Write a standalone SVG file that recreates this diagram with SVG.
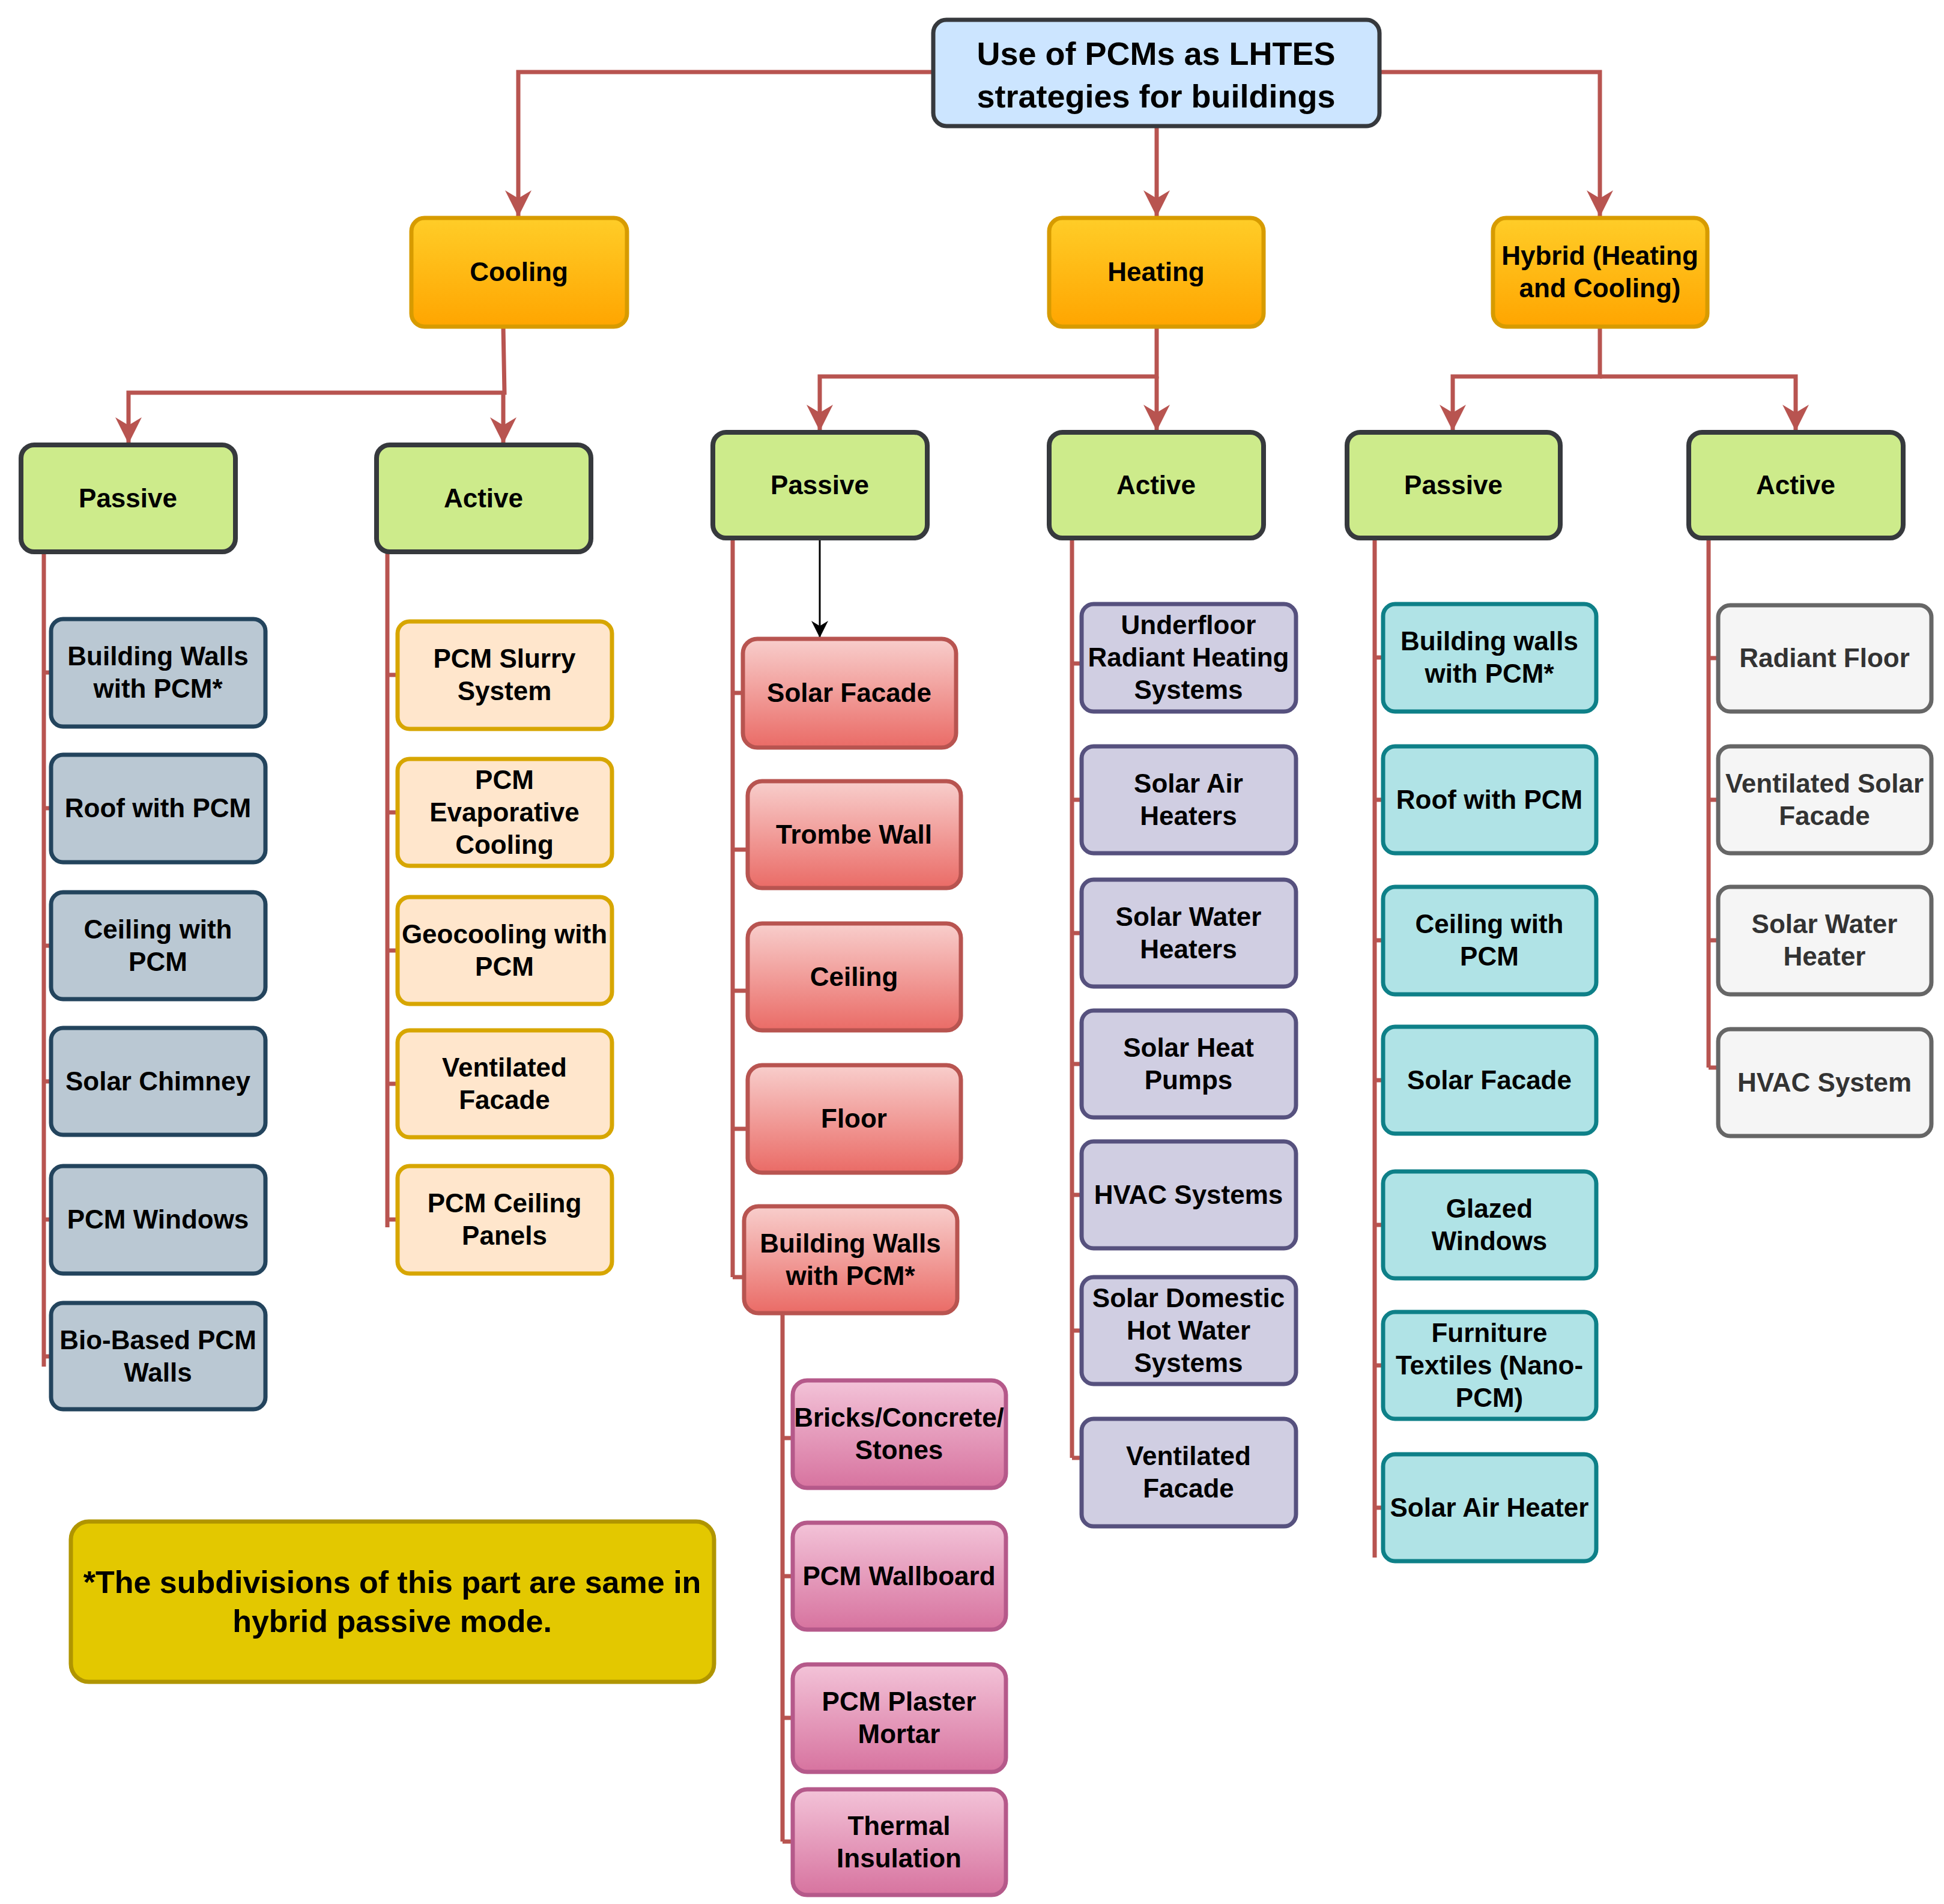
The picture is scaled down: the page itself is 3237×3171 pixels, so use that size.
<svg xmlns="http://www.w3.org/2000/svg" width="3237" height="3171" viewBox="0 0 3237 3171">
<defs>
<style>
text{font-family:"Liberation Sans",Arial,sans-serif;font-weight:bold;font-size:44px;fill:#000;text-anchor:middle}
.t{font-size:54px}
.c{fill:none;stroke:#b85450;stroke-width:7}
.k{fill:none;stroke:#000;stroke-width:3}
.title{fill:#cce5ff;stroke:#36393d;stroke-width:7}
.l2{fill:url(#og);stroke:#d79b00;stroke-width:7}
.l3{fill:#cdeb8b;stroke:#36393d;stroke-width:8}
.cp{fill:#bac8d3;stroke:#23445d;stroke-width:7}
.ca{fill:#ffe6cc;stroke:#d7a600;stroke-width:7}
.hp{fill:url(#rg);stroke:#b85450;stroke-width:7}
.hw{fill:url(#pg);stroke:#b5598a;stroke-width:7}
.ha{fill:#d0cee2;stroke:#56517e;stroke-width:7}
.yp{fill:#b0e3e6;stroke:#0e8088;stroke-width:7}
.ya{fill:#f5f5f5;stroke:#666;stroke-width:7}
.note{fill:#e3c800;stroke:#b09500;stroke-width:7}
</style>
<linearGradient id="og" x1="0" y1="0" x2="0" y2="1"><stop offset="0" stop-color="#ffcd28"/><stop offset="1" stop-color="#ffa500"/></linearGradient>
<linearGradient id="rg" x1="0" y1="0" x2="0" y2="1"><stop offset="0" stop-color="#f8cecc"/><stop offset="1" stop-color="#ea6b66"/></linearGradient>
<linearGradient id="pg" x1="0" y1="0" x2="0" y2="1"><stop offset="0" stop-color="#f3c3d8"/><stop offset="1" stop-color="#d7739f"/></linearGradient>
<marker id="ar" markerUnits="userSpaceOnUse" markerWidth="44" markerHeight="44" viewBox="0 0 10 10" refX="10" refY="5" orient="auto"><path d="M0,0 L10,5 L0,10 L3,5 z" fill="#b85450"/></marker>
<marker id="ak" markerUnits="userSpaceOnUse" markerWidth="28" markerHeight="28" viewBox="0 0 10 10" refX="10" refY="5" orient="auto"><path d="M0,0 L10,5 L0,10 L3,5 z" fill="#000"/></marker>
</defs>
<rect width="3237" height="3171" fill="#fff"/>
<g id="connectors">
<polyline class="c" points="1554,120 863,120 863,361" marker-end="url(#ar)"/>
<polyline class="c" points="2297,120 2664,120 2664,361" marker-end="url(#ar)"/>
<polyline class="c" points="1926,210 1926,361" marker-end="url(#ar)"/>
<polyline class="c" points="838,544 840,654 214,654 214,739" marker-end="url(#ar)"/>
<polyline class="c" points="838,654 838,739" marker-end="url(#ar)"/>
<polyline class="c" points="1926,544 1926,627 1365,627 1365,718" marker-end="url(#ar)"/>
<polyline class="c" points="1926,627 1926,718" marker-end="url(#ar)"/>
<polyline class="c" points="2664,544 2664,627 2419,627 2419,718" marker-end="url(#ar)"/>
<polyline class="c" points="2664,627 2990,627 2990,718" marker-end="url(#ar)"/>
<polyline class="k" points="1365,896 1365,1062" marker-end="url(#ak)"/>
<path class="c" d="M73,919V2276M73,1120H85M73,1346H85M73,1575H85M73,1801H85M73,2031H85M73,2259H85"/>
<path class="c" d="M645,919V2044M645,1124H662M645,1353H662M645,1583H662M645,1805H662M645,2031H662"/>
<path class="c" d="M1220,896V2127M1220,1154H1237M1220,1415H1245M1220,1650H1245M1220,1880H1245M1220,2127H1239"/>
<path class="c" d="M1303,2187V3067M1303,2395H1320M1303,2625H1320M1303,2861H1320M1303,3067H1320"/>
<path class="c" d="M1785,896V2428M1785,1105H1801M1785,1332H1801M1785,1554H1801M1785,1772H1801M1785,1990H1801M1785,2216H1801M1785,2428H1801"/>
<path class="c" d="M2289,896V2594M2289,1095H2303M2289,1332H2303M2289,1566H2303M2289,1799H2303M2289,2040H2303M2289,2274H2303M2289,2511H2303"/>
<path class="c" d="M2845,896V1778M2845,1096H2861M2845,1332H2861M2845,1566H2861M2845,1778H2861"/>
</g>
<g id="title"><rect class="title" x="1554" y="33" width="743" height="177" rx="22"/><text class="t" x="1925" y="108">Use of PCMs as LHTES</text><text class="t" x="1925" y="179">strategies for buildings</text></g>
<g id="cooling"><rect class="l2" x="685" y="363" width="359" height="181" rx="22"/><text x="864" y="468">Cooling</text></g>
<g id="heating"><rect class="l2" x="1747" y="363" width="357" height="181" rx="22"/><text x="1925" y="468">Heating</text></g>
<g id="hybrid"><rect class="l2" x="2486" y="363" width="357" height="181" rx="22"/><text x="2664" y="441">Hybrid (Heating</text><text x="2664" y="495">and Cooling)</text></g>
<g id="c-passive"><rect class="l3" x="35" y="741" width="357" height="178" rx="22"/><text x="213" y="845">Passive</text></g>
<g id="c-active"><rect class="l3" x="627" y="741" width="357" height="178" rx="22"/><text x="805" y="845">Active</text></g>
<g id="h-passive"><rect class="l3" x="1187" y="720" width="357" height="176" rx="22"/><text x="1365" y="823">Passive</text></g>
<g id="h-active"><rect class="l3" x="1747" y="720" width="357" height="176" rx="22"/><text x="1925" y="823">Active</text></g>
<g id="y-passive"><rect class="l3" x="2243" y="720" width="355" height="176" rx="22"/><text x="2420" y="823">Passive</text></g>
<g id="y-active"><rect class="l3" x="2812" y="720" width="357" height="176" rx="22"/><text x="2990" y="823">Active</text></g>

<g id="cp1"><rect class="cp" x="85" y="1031" width="357" height="179" rx="20"/><text x="263" y="1108">Building Walls</text><text x="263" y="1162">with PCM*</text></g>
<g id="cp2"><rect class="cp" x="85" y="1257" width="357" height="179" rx="20"/><text x="263" y="1361">Roof with PCM</text></g>
<g id="cp3"><rect class="cp" x="85" y="1486" width="357" height="178" rx="20"/><text x="263" y="1563">Ceiling with</text><text x="263" y="1617">PCM</text></g>
<g id="cp4"><rect class="cp" x="85" y="1712" width="357" height="178" rx="20"/><text x="263" y="1816">Solar Chimney</text></g>
<g id="cp5"><rect class="cp" x="85" y="1942" width="357" height="179" rx="20"/><text x="263" y="2046">PCM Windows</text></g>
<g id="cp6"><rect class="cp" x="85" y="2170" width="357" height="177" rx="20"/><text x="263" y="2247">Bio-Based PCM</text><text x="263" y="2301">Walls</text></g>

<g id="ca1"><rect class="ca" x="662" y="1035" width="357" height="179" rx="20"/><text x="840" y="1112">PCM Slurry</text><text x="840" y="1166">System</text></g>
<g id="ca2"><rect class="ca" x="662" y="1264" width="357" height="178" rx="20"/><text x="840" y="1314">PCM</text><text x="840" y="1368">Evaporative</text><text x="840" y="1422">Cooling</text></g>
<g id="ca3"><rect class="ca" x="662" y="1494" width="357" height="178" rx="20"/><text x="840" y="1571">Geocooling with</text><text x="840" y="1625">PCM</text></g>
<g id="ca4"><rect class="ca" x="662" y="1716" width="357" height="178" rx="20"/><text x="840" y="1793">Ventilated</text><text x="840" y="1847">Facade</text></g>
<g id="ca5"><rect class="ca" x="662" y="1942" width="357" height="179" rx="20"/><text x="840" y="2019">PCM Ceiling</text><text x="840" y="2073">Panels</text></g>

<g id="hp1"><rect class="hp" x="1237" y="1064" width="355" height="181" rx="24"/><text x="1414" y="1169">Solar Facade</text></g>
<g id="hp2"><rect class="hp" x="1245" y="1301" width="355" height="178" rx="24"/><text x="1422" y="1405">Trombe Wall</text></g>
<g id="hp3"><rect class="hp" x="1245" y="1538" width="355" height="178" rx="24"/><text x="1422" y="1642">Ceiling</text></g>
<g id="hp4"><rect class="hp" x="1245" y="1774" width="355" height="179" rx="24"/><text x="1422" y="1878">Floor</text></g>
<g id="hp5"><rect class="hp" x="1239" y="2009" width="355" height="178" rx="24"/><text x="1416" y="2086">Building Walls</text><text x="1416" y="2140">with PCM*</text></g>

<g id="hw1"><rect class="hw" x="1320" y="2299" width="355" height="179" rx="24"/><text x="1497" y="2376">Bricks/Concrete/</text><text x="1497" y="2430">Stones</text></g>
<g id="hw2"><rect class="hw" x="1320" y="2536" width="355" height="178" rx="24"/><text x="1497" y="2640">PCM Wallboard</text></g>
<g id="hw3"><rect class="hw" x="1320" y="2772" width="355" height="179" rx="24"/><text x="1497" y="2849">PCM Plaster</text><text x="1497" y="2903">Mortar</text></g>
<g id="hw4"><rect class="hw" x="1320" y="2980" width="355" height="176" rx="24"/><text x="1497" y="3056">Thermal</text><text x="1497" y="3110">Insulation</text></g>

<g id="ha1"><rect class="ha" x="1801" y="1006" width="357" height="179" rx="20"/><text x="1979" y="1056">Underfloor</text><text x="1979" y="1110">Radiant Heating</text><text x="1979" y="1164">Systems</text></g>
<g id="ha2"><rect class="ha" x="1801" y="1243" width="357" height="178" rx="20"/><text x="1979" y="1320">Solar Air</text><text x="1979" y="1374">Heaters</text></g>
<g id="ha3"><rect class="ha" x="1801" y="1465" width="357" height="178" rx="20"/><text x="1979" y="1542">Solar Water</text><text x="1979" y="1596">Heaters</text></g>
<g id="ha4"><rect class="ha" x="1801" y="1683" width="357" height="178" rx="20"/><text x="1979" y="1760">Solar Heat</text><text x="1979" y="1814">Pumps</text></g>
<g id="ha5"><rect class="ha" x="1801" y="1901" width="357" height="178" rx="20"/><text x="1979" y="2005">HVAC Systems</text></g>
<g id="ha6"><rect class="ha" x="1801" y="2127" width="357" height="178" rx="20"/><text x="1979" y="2177">Solar Domestic</text><text x="1979" y="2231">Hot Water</text><text x="1979" y="2285">Systems</text></g>
<g id="ha7"><rect class="ha" x="1801" y="2363" width="357" height="179" rx="20"/><text x="1979" y="2440">Ventilated</text><text x="1979" y="2494">Facade</text></g>

<g id="yp1"><rect class="yp" x="2303" y="1006" width="355" height="179" rx="20"/><text x="2480" y="1083">Building walls</text><text x="2480" y="1137">with PCM*</text></g>
<g id="yp2"><rect class="yp" x="2303" y="1243" width="355" height="178" rx="20"/><text x="2480" y="1347">Roof with PCM</text></g>
<g id="yp3"><rect class="yp" x="2303" y="1477" width="355" height="179" rx="20"/><text x="2480" y="1554">Ceiling with</text><text x="2480" y="1608">PCM</text></g>
<g id="yp4"><rect class="yp" x="2303" y="1710" width="355" height="178" rx="20"/><text x="2480" y="1814">Solar Facade</text></g>
<g id="yp5"><rect class="yp" x="2303" y="1951" width="355" height="178" rx="20"/><text x="2480" y="2028">Glazed</text><text x="2480" y="2082">Windows</text></g>
<g id="yp6"><rect class="yp" x="2303" y="2185" width="355" height="178" rx="20"/><text x="2480" y="2235">Furniture</text><text x="2480" y="2289">Textiles (Nano-</text><text x="2480" y="2343">PCM)</text></g>
<g id="yp7"><rect class="yp" x="2303" y="2422" width="355" height="178" rx="20"/><text x="2480" y="2526">Solar Air Heater</text></g>

<g id="ya1"><rect class="ya" x="2861" y="1008" width="355" height="177" rx="20"/><text x="3038" y="1111" fill="#333" style="fill:#333">Radiant Floor</text></g>
<g id="ya2"><rect class="ya" x="2861" y="1243" width="355" height="178" rx="20"/><text x="3038" y="1320" style="fill:#333">Ventilated Solar</text><text x="3038" y="1374" style="fill:#333">Facade</text></g>
<g id="ya3"><rect class="ya" x="2861" y="1477" width="355" height="179" rx="20"/><text x="3038" y="1554" style="fill:#333">Solar Water</text><text x="3038" y="1608" style="fill:#333">Heater</text></g>
<g id="ya4"><rect class="ya" x="2861" y="1714" width="355" height="178" rx="20"/><text x="3038" y="1818" style="fill:#333">HVAC System</text></g>

<g id="note"><rect class="note" x="118" y="2534" width="1071" height="267" rx="30"/><text class="t" x="653" y="2653" style="font-size:52px">*The subdivisions of this part are same in</text><text class="t" x="653" y="2718" style="font-size:52px">hybrid passive mode.</text></g>
</svg>
